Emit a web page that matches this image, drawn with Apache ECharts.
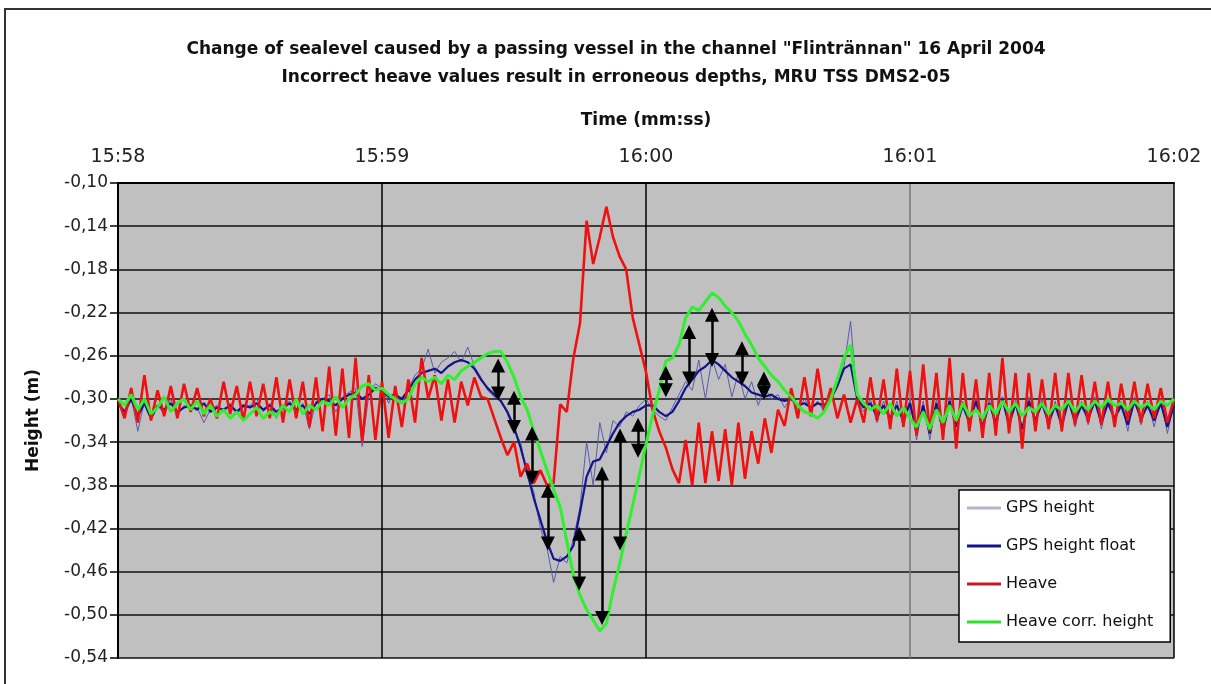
<!DOCTYPE html>
<html>
<head>
<meta charset="utf-8">
<script src="https://cdn.jsdelivr.net/npm/echarts@6/dist/echarts.min.js"></script>
<style>
html,body{margin:0;padding:0;background:#fff;}
#chart{width:1211px;height:684px;}
</style>
</head>
<body>
<div id="chart"></div>
<script>
// Sampling: one value every 1.5 s starting at 15:58:00 (t in seconds)
var timeStep = 1.5;
var xTickLabels = ['15:58', '15:59', '16:00', '16:01', '16:02'];

var gpsHeight = [
 -0.300,-0.316,-0.298,-0.330,-0.302,-0.320,-0.306,-0.314,-0.300,-0.316,
 -0.306,-0.310,-0.308,-0.322,-0.310,-0.306,-0.312,-0.304,-0.314,-0.308,
 -0.306,-0.300,-0.312,-0.304,-0.318,-0.306,-0.302,-0.312,-0.304,-0.328,
 -0.302,-0.300,-0.296,-0.312,-0.298,-0.294,-0.290,-0.344,-0.296,-0.286,
 -0.290,-0.304,-0.292,-0.304,-0.290,-0.278,-0.272,-0.254,-0.276,-0.266,
 -0.262,-0.256,-0.266,-0.252,-0.270,-0.280,-0.292,-0.298,-0.300,-0.314,
 -0.330,-0.340,-0.372,-0.386,-0.420,-0.438,-0.470,-0.446,-0.452,-0.430,
 -0.400,-0.340,-0.380,-0.322,-0.350,-0.320,-0.326,-0.312,-0.316,-0.306,
 -0.300,-0.310,-0.316,-0.320,-0.308,-0.296,-0.284,-0.292,-0.264,-0.300,
 -0.262,-0.282,-0.268,-0.298,-0.276,-0.300,-0.284,-0.306,-0.290,-0.300,
 -0.296,-0.308,-0.298,-0.310,-0.300,-0.310,-0.302,-0.312,-0.296,-0.284,
 -0.270,-0.228,-0.302,-0.312,-0.300,-0.322,-0.302,-0.324,-0.302,-0.326,
 -0.300,-0.338,-0.302,-0.338,-0.300,-0.334,-0.298,-0.332,-0.302,-0.326,
 -0.300,-0.334,-0.300,-0.330,-0.298,-0.328,-0.300,-0.336,-0.298,-0.326,
 -0.300,-0.328,-0.302,-0.330,-0.300,-0.326,-0.302,-0.324,-0.298,-0.328,
 -0.300,-0.322,-0.302,-0.330,-0.298,-0.324,-0.302,-0.326,-0.300,-0.332,
 -0.302
];

var gpsHeightFloat = [
 -0.304,-0.312,-0.300,-0.316,-0.304,-0.318,-0.306,-0.310,-0.304,-0.312,
 -0.308,-0.306,-0.310,-0.304,-0.312,-0.308,-0.310,-0.306,-0.312,-0.306,
 -0.308,-0.304,-0.310,-0.306,-0.312,-0.308,-0.304,-0.310,-0.306,-0.314,
 -0.304,-0.300,-0.302,-0.306,-0.300,-0.296,-0.294,-0.300,-0.296,-0.290,
 -0.292,-0.298,-0.296,-0.300,-0.292,-0.282,-0.276,-0.274,-0.272,-0.276,
 -0.270,-0.266,-0.264,-0.266,-0.272,-0.282,-0.290,-0.296,-0.302,-0.312,
 -0.326,-0.345,-0.368,-0.392,-0.412,-0.432,-0.448,-0.450,-0.446,-0.436,
 -0.405,-0.372,-0.358,-0.356,-0.344,-0.332,-0.322,-0.316,-0.312,-0.310,
 -0.306,-0.306,-0.312,-0.316,-0.312,-0.302,-0.290,-0.282,-0.274,-0.270,
 -0.264,-0.268,-0.274,-0.280,-0.284,-0.288,-0.294,-0.296,-0.298,-0.296,
 -0.300,-0.302,-0.300,-0.306,-0.304,-0.308,-0.304,-0.306,-0.300,-0.288,
 -0.272,-0.268,-0.300,-0.308,-0.304,-0.316,-0.306,-0.318,-0.306,-0.320,
 -0.304,-0.330,-0.306,-0.332,-0.304,-0.330,-0.302,-0.326,-0.306,-0.322,
 -0.302,-0.326,-0.304,-0.322,-0.300,-0.324,-0.304,-0.328,-0.302,-0.320,
 -0.304,-0.322,-0.306,-0.324,-0.302,-0.320,-0.306,-0.318,-0.302,-0.322,
 -0.304,-0.318,-0.306,-0.324,-0.302,-0.318,-0.306,-0.320,-0.304,-0.326,
 -0.306
];

var heave = [
 -0.300,-0.318,-0.290,-0.322,-0.278,-0.320,-0.292,-0.316,-0.288,-0.318,
 -0.286,-0.312,-0.290,-0.316,-0.300,-0.318,-0.284,-0.314,-0.288,-0.320,
 -0.284,-0.316,-0.286,-0.318,-0.280,-0.322,-0.282,-0.318,-0.284,-0.326,
 -0.280,-0.330,-0.270,-0.334,-0.272,-0.336,-0.262,-0.340,-0.278,-0.338,
 -0.284,-0.336,-0.288,-0.326,-0.282,-0.322,-0.262,-0.300,-0.278,-0.320,
 -0.282,-0.322,-0.284,-0.306,-0.280,-0.298,-0.300,-0.318,-0.336,-0.352,
 -0.340,-0.372,-0.360,-0.378,-0.366,-0.380,-0.378,-0.305,-0.312,-0.262,
 -0.230,-0.135,-0.175,-0.150,-0.122,-0.150,-0.168,-0.180,-0.225,-0.250,
 -0.275,-0.310,-0.330,-0.345,-0.365,-0.378,-0.338,-0.380,-0.322,-0.378,
 -0.330,-0.376,-0.328,-0.380,-0.322,-0.374,-0.330,-0.360,-0.318,-0.350,
 -0.310,-0.325,-0.290,-0.318,-0.280,-0.316,-0.272,-0.312,-0.290,-0.318,
 -0.296,-0.322,-0.300,-0.322,-0.280,-0.320,-0.282,-0.328,-0.272,-0.326,
 -0.274,-0.334,-0.268,-0.330,-0.276,-0.338,-0.262,-0.346,-0.276,-0.330,
 -0.282,-0.336,-0.276,-0.334,-0.262,-0.332,-0.276,-0.346,-0.276,-0.330,
 -0.282,-0.328,-0.276,-0.330,-0.276,-0.324,-0.278,-0.322,-0.284,-0.324,
 -0.284,-0.326,-0.286,-0.320,-0.284,-0.322,-0.286,-0.318,-0.290,-0.322,
 -0.300
];

var heaveCorrHeight = [
 -0.300,-0.306,-0.296,-0.310,-0.300,-0.314,-0.308,-0.298,-0.312,-0.304,
 -0.300,-0.310,-0.302,-0.314,-0.306,-0.316,-0.310,-0.318,-0.312,-0.320,
 -0.314,-0.308,-0.318,-0.312,-0.316,-0.306,-0.312,-0.300,-0.314,-0.306,
 -0.310,-0.302,-0.306,-0.298,-0.308,-0.300,-0.296,-0.288,-0.286,-0.292,
 -0.290,-0.296,-0.300,-0.304,-0.300,-0.286,-0.280,-0.284,-0.280,-0.286,
 -0.278,-0.282,-0.274,-0.270,-0.266,-0.262,-0.258,-0.256,-0.256,-0.266,
 -0.280,-0.298,-0.310,-0.330,-0.348,-0.366,-0.384,-0.400,-0.432,-0.463,
 -0.482,-0.495,-0.505,-0.515,-0.508,-0.478,-0.453,-0.425,-0.398,-0.370,
 -0.342,-0.315,-0.292,-0.265,-0.262,-0.250,-0.225,-0.215,-0.218,-0.210,
 -0.202,-0.206,-0.214,-0.220,-0.228,-0.240,-0.250,-0.262,-0.270,-0.278,
 -0.284,-0.292,-0.298,-0.306,-0.312,-0.314,-0.318,-0.312,-0.300,-0.282,
 -0.262,-0.250,-0.296,-0.304,-0.310,-0.306,-0.314,-0.304,-0.316,-0.308,
 -0.318,-0.326,-0.312,-0.328,-0.310,-0.322,-0.306,-0.320,-0.304,-0.316,
 -0.310,-0.318,-0.306,-0.314,-0.302,-0.312,-0.304,-0.316,-0.308,-0.312,
 -0.304,-0.314,-0.306,-0.310,-0.302,-0.312,-0.304,-0.310,-0.302,-0.308,
 -0.300,-0.306,-0.304,-0.310,-0.302,-0.308,-0.304,-0.310,-0.302,-0.306,
 -0.300
];

// Double-headed arrows between GPS height float and heave corr. height
var arrowTimes  = [86.4, 90.0, 94.1, 97.7, 104.8, 110.0, 114.1, 118.2, 124.5, 129.8, 135.0, 141.8, 146.8];
var arrowTop    = [-0.269,-0.299,-0.332,-0.385,-0.425,-0.369,-0.334,-0.324,-0.276,-0.238,-0.222,-0.253,-0.281];
var arrowBottom = [-0.295,-0.326,-0.373,-0.434,-0.471,-0.503,-0.434,-0.348,-0.292,-0.281,-0.264,-0.281,-0.294];

function pairs(arr) {
  return arr.map(function (v, i) { return [i * timeStep, v]; });
}

var FONT = 'DejaVu Sans';
var chart = echarts.init(document.getElementById('chart'), null, {renderer: 'canvas'});

var option = {
  animation: false,
  backgroundColor: '#ffffff',
  textStyle: {fontFamily: FONT, color: '#000'},
  title: {
    text: 'Change of sealevel caused by a passing vessel in the channel "Flintrännan" 16 April 2004\nIncorrect heave values result in erroneous depths, MRU TSS DMS2-05',
    left: 611,
    textAlign: 'center',
    top: 31,
    textStyle: {fontFamily: FONT, fontSize: 17, fontWeight: 'bold', color: '#111', lineHeight: 28}
  },
  graphic: [{
    type: 'rect',
    shape: {x: 5, y: 9, width: 1240, height: 720},
    style: {fill: 'none', stroke: '#333', lineWidth: 2},
    silent: true,
    z: -10
  }],
  legend: {
    orient: 'vertical',
    left: 959,
    top: 490,
    data: [
      {name: 'GPS height', icon: 'rect', itemStyle: {color: '#b4b4cc'}},
      {name: 'GPS height float', icon: 'rect', itemStyle: {color: '#14148a'}},
      {name: 'Heave', icon: 'rect', itemStyle: {color: '#c81820'}},
      {name: 'Heave corr. height', icon: 'rect', itemStyle: {color: '#2ee02e'}}
    ],
    backgroundColor: '#ffffff',
    borderColor: '#000',
    borderWidth: 1.5,
    borderRadius: 0,
    padding: [10, 17, 12, 8],
    itemGap: 22,
    itemWidth: 34,
    itemHeight: 3,
    textStyle: {fontFamily: FONT, fontSize: 16, color: '#111'},
    selectedMode: false
  },
  grid: {
    left: 118, right: 37, top: 183, bottom: 26,
    show: true, backgroundColor: '#c0c0c0', borderWidth: 0
  },
  xAxis: {
    type: 'value',
    position: 'top',
    min: 0, max: 240, interval: 60,
    name: 'Time (mm:ss)',
    nameLocation: 'middle',
    nameGap: 54,
    nameTextStyle: {fontFamily: FONT, fontSize: 17, fontWeight: 'bold', color: '#111'},
    axisLine: {show: true, lineStyle: {color: '#000', width: 2}},
    axisTick: {show: false},
    axisLabel: {
      margin: 16, fontFamily: FONT, fontSize: 19, color: '#222',
      formatter: function (v) { return xTickLabels[Math.round(v / 60)]; }
    },
    splitLine: {show: true, lineStyle: {color: ['#000', '#000', '#000', '#777', '#000'], width: 1.5}}
  },
  yAxis: {
    type: 'value',
    min: -0.54, max: -0.10, interval: 0.04,
    name: 'Height (m)',
    nameLocation: 'middle',
    nameGap: 76,
    nameTextStyle: {fontFamily: FONT, fontSize: 17, fontWeight: 'bold', color: '#111'},
    axisLine: {show: true, onZero: false, lineStyle: {color: '#000', width: 2}},
    axisTick: {show: true, length: 8, lineStyle: {color: '#000', width: 1.5}},
    axisLabel: {
      margin: 10, fontFamily: FONT, fontSize: 17, color: '#222',
      formatter: function (v) { return v.toFixed(2).replace('.', ','); }
    },
    splitLine: {show: true, lineStyle: {color: '#111', width: 1.5}}
  },
  series: [
    {name: 'GPS height', type: 'line', data: pairs(gpsHeight), showSymbol: false, symbol: 'none',
     lineStyle: {color: '#5a5aae', width: 1}, itemStyle: {color: '#5a5aae'}, z: 2},
    {name: 'GPS height float', type: 'line', data: pairs(gpsHeightFloat), showSymbol: false, symbol: 'none',
     lineStyle: {color: '#14148a', width: 2.2}, itemStyle: {color: '#14148a'}, z: 2},
    {name: 'Heave', type: 'line', data: pairs(heave), showSymbol: false, symbol: 'none',
     lineStyle: {color: '#f01010', width: 2.6}, itemStyle: {color: '#f01010'}, z: 2},
    {name: 'Heave corr. height', type: 'line', data: pairs(heaveCorrHeight), showSymbol: false, symbol: 'none',
     lineStyle: {color: '#2ef02e', width: 3}, itemStyle: {color: '#2ef02e'}, z: 2},
    {name: 'arrows', type: 'line', data: [], z: 3,
     markLine: {
       silent: true,
       symbol: ['triangle', 'triangle'],
       symbolSize: 14,
       label: {show: false},
       lineStyle: {color: '#000', width: 2.5, type: 'solid'},
       itemStyle: {color: '#000'},
       emphasis: {disabled: true},
       data: arrowTimes.map(function (t, k) {
         return [{coord: [t, arrowTop[k]]}, {coord: [t, arrowBottom[k]]}];
       })
     }}
  ]
};
chart.setOption(option);
</script>
</body>
</html>
